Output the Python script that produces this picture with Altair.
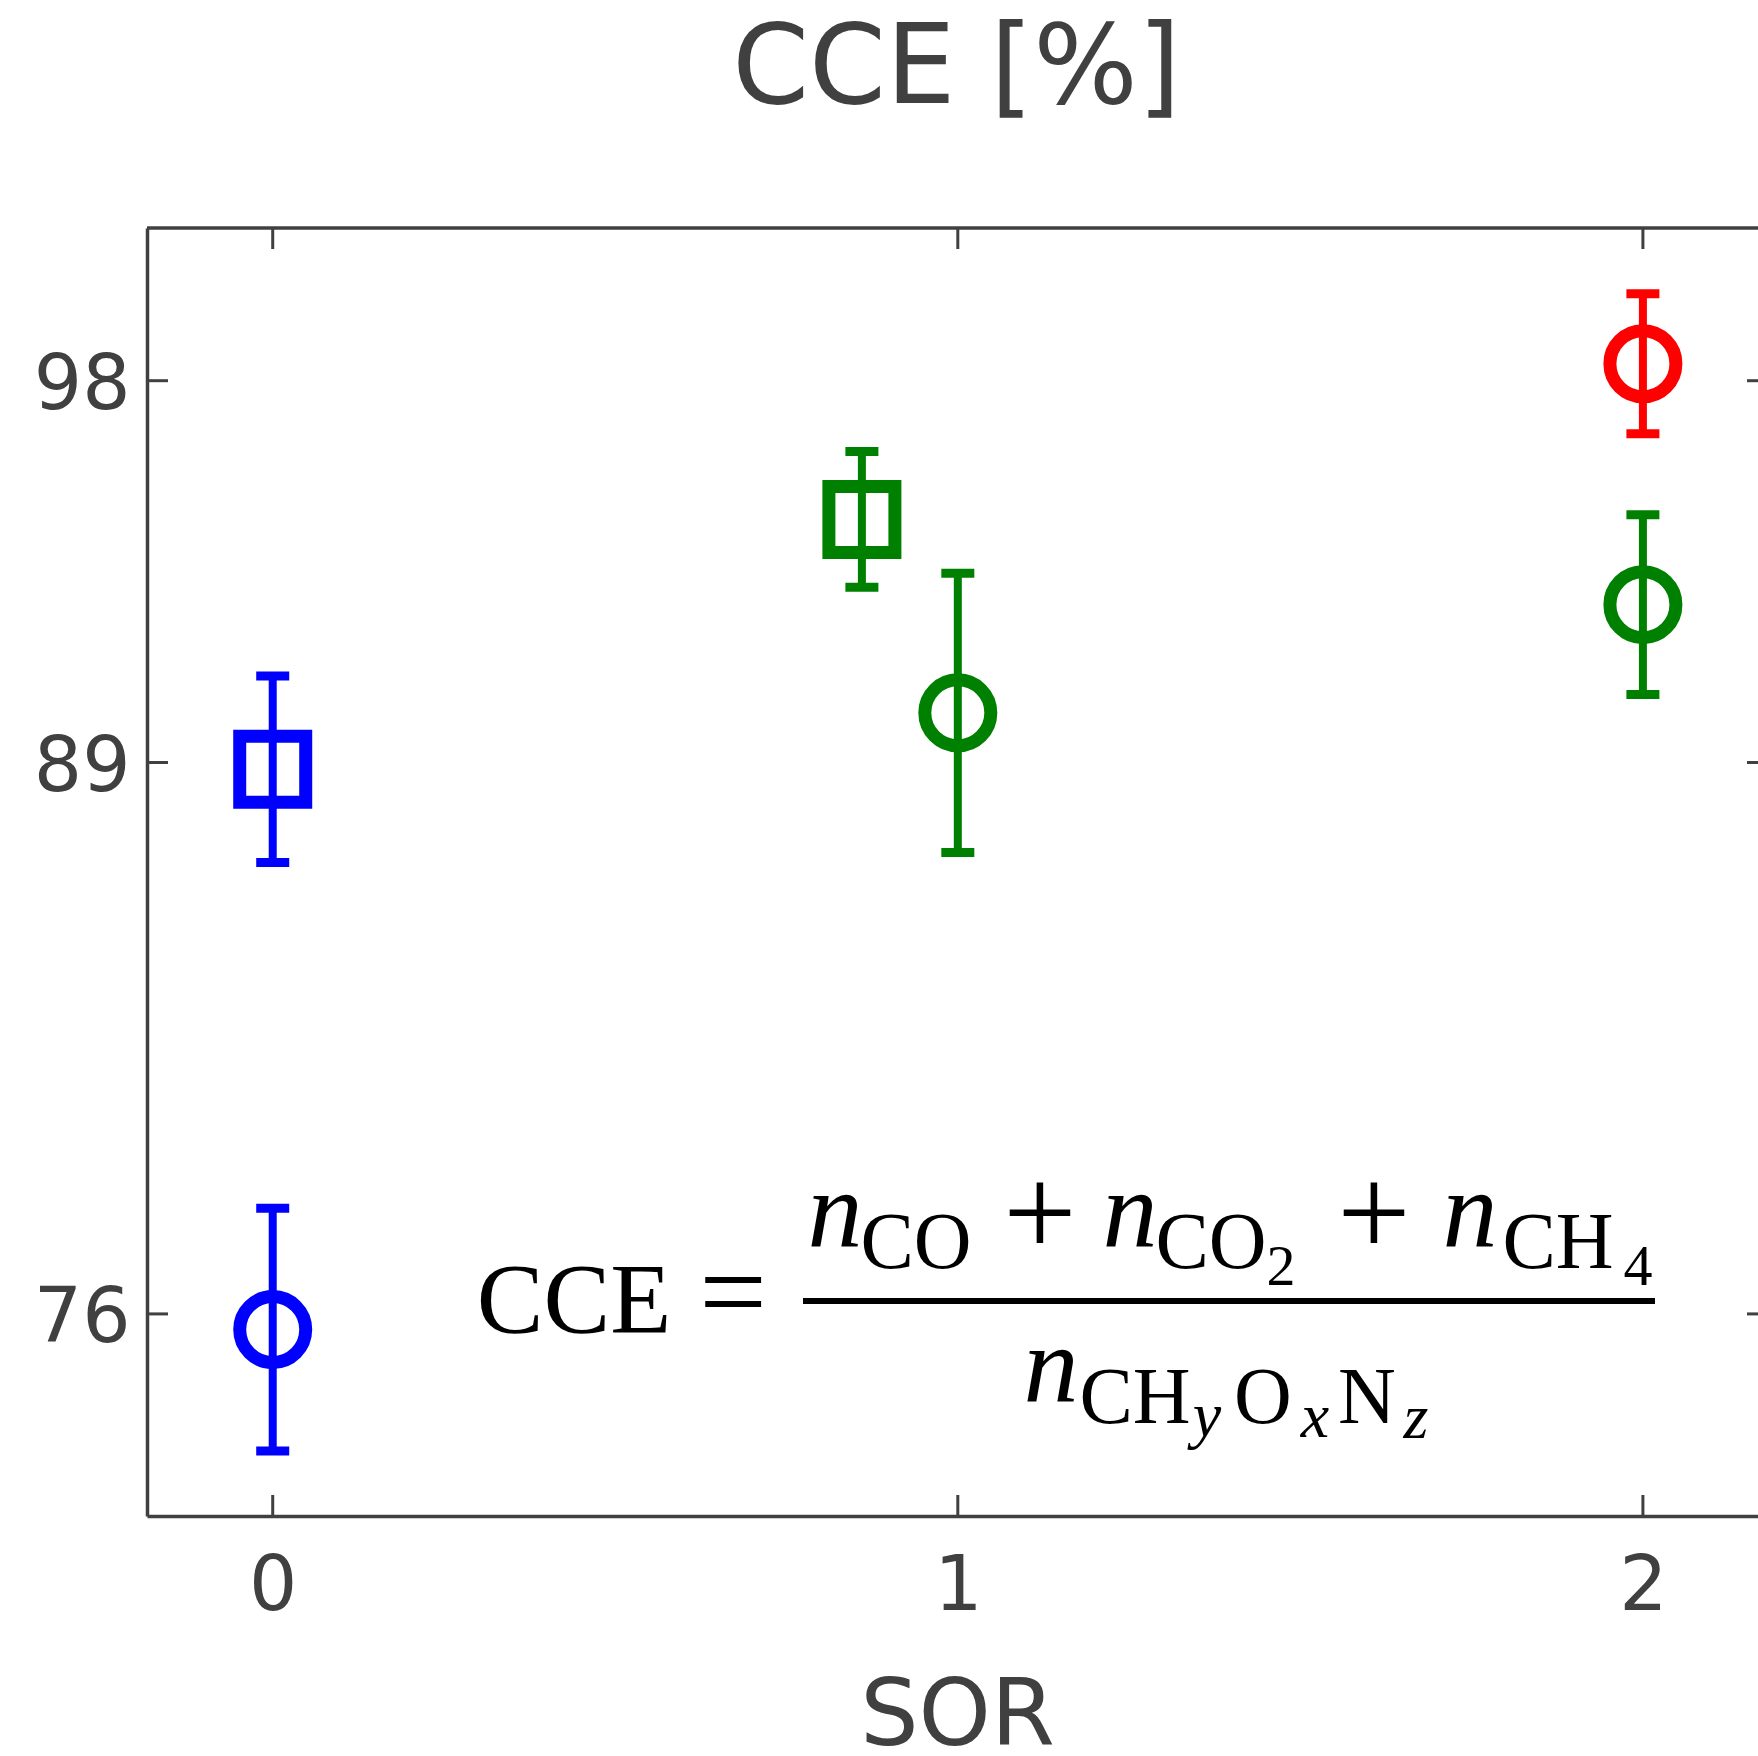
import altair as alt
import pandas as pd

# SOR, mean CCE [%] and error-bar half width for each run
sor = [0, 0, 0.86, 1, 2, 2]
cce = [88.84, 75.63, 94.73, 90.17, 98.4, 92.72]
cce_err = [2.2, 2.86, 1.6, 3.29, 1.65, 2.12]
run_set = ["set 1", "set 1", "set 2", "set 2", "set 3", "set 2"]
run_type = ["type 1", "type 2", "type 1", "type 2", "type 2", "type 2"]

x_ticks = [0, 1, 2]
y_ticks = [76, 89, 98]

df = pd.DataFrame({"sor": sor, "cce": cce, "err": cce_err,
                   "set": run_set, "type": run_type})
df["lo"] = df["cce"] - df["err"]
df["hi"] = df["cce"] + df["err"]

# plot area geometry
W, H = 1611, 1288
PAD_L, PAD_T = 147, 228
INK = "#404040"
SANS = "DejaVu Sans"
SERIF = "Liberation Serif"
LINE_W = 3.5

xs = alt.Scale(domain=[-0.1835, 2.168], nice=False, zero=False)
ys = alt.Scale(domain=[71.236, 101.6], nice=False, zero=False)

colour = alt.Color("set:N",
                   scale=alt.Scale(domain=["set 1", "set 2", "set 3"],
                                   range=["#0000ff", "#008000", "#ff0000"]),
                   legend=None)

x_axis = alt.Axis(values=x_ticks, format="d", ticks=False, tickSize=0,
                  grid=False, labelPadding=33, domainColor=INK, domainWidth=LINE_W,
                  title="SOR", titleX=810, titleY=228, titleAlign="center",
                  titleBaseline="alphabetic")
y_axis = alt.Axis(values=y_ticks, format="d", ticks=False, tickSize=0,
                  grid=False, labelPadding=17, labelOffset=5,
                  domainColor=INK, domainWidth=LINE_W, title=None)


def X(field):
    return alt.X(field, type="quantitative", scale=xs, axis=x_axis)


def Y(field):
    return alt.Y(field, type="quantitative", scale=ys, axis=y_axis)


base = alt.Chart(df)

err_bars = base.mark_rule(strokeWidth=8).encode(
    x=X("sor"), y=Y("lo"), y2="hi:Q", color=colour)
cap_lo = base.mark_tick(orient="horizontal", size=33, thickness=9, opacity=1).encode(
    x=X("sor"), y=Y("lo"), color=colour)
cap_hi = base.mark_tick(orient="horizontal", size=33, thickness=9, opacity=1).encode(
    x=X("sor"), y=Y("hi"), color=colour)
markers = base.mark_point(filled=False, strokeWidth=13, opacity=1).encode(
    x=X("sor"),
    y=Y("cce"),
    color=colour,
    shape=alt.Shape("type:N",
                    scale=alt.Scale(domain=["type 1", "type 2"],
                                    range=["square", "circle"]),
                    legend=None),
    size=alt.Size("type:N",
                  scale=alt.Scale(domain=["type 1", "type 2"],
                                  range=[4356, 4356]),
                  legend=None),
)

# frame: top edge and inward-pointing ticks on all four sides
frame_top = alt.Chart(pd.DataFrame({"k": [0]})).mark_rule(
    color=INK, strokeWidth=LINE_W).encode(
    x=alt.value(0), x2=alt.value(W), y=alt.value(0))

xt = alt.Chart(pd.DataFrame({"v": x_ticks}))
yt = alt.Chart(pd.DataFrame({"v": y_ticks}))
tick_style = dict(color=INK, strokeWidth=3)
ticks_bottom = xt.mark_rule(**tick_style).encode(
    x=X("v"), y=alt.value(H), y2=alt.value(H - 21))
ticks_top = xt.mark_rule(**tick_style).encode(
    x=X("v"), y=alt.value(0), y2=alt.value(21))
ticks_left = yt.mark_rule(**tick_style).encode(
    y=Y("v"), x=alt.value(0), x2=alt.value(21))
ticks_right = yt.mark_rule(**tick_style).encode(
    y=Y("v"), x=alt.value(W - 11), x2=alt.value(W))

# CCE definition, typeset piece by piece: (text, centre x, baseline y, size, italic)
formula_pieces = [
    ("CCE", 574, 1332, 100, False),
    ("=", 733, 1332, 120, False),
    ("n", 835, 1247, 110, True),
    ("CO", 916, 1268, 80, False),
    ("+", 1040, 1256, 130, False),
    ("n", 1130, 1247, 110, True),
    ("CO", 1211, 1268, 80, False),
    ("2", 1281, 1285, 58, False),
    ("+", 1374, 1256, 130, False),
    ("n", 1470, 1247, 110, True),
    ("CH", 1558, 1268, 80, False),
    ("4", 1638, 1285, 58, False),
    ("n", 1051, 1402, 110, True),
    ("CH", 1135, 1423, 80, False),
    ("y", 1207, 1436, 64, True),
    ("O", 1263, 1423, 80, False),
    ("x", 1315, 1437, 64, True),
    ("N", 1367, 1423, 80, False),
    ("z", 1416, 1438, 64, True),
]
formula_layers = []
for txt, cx, by, fs, it in formula_pieces:
    kw = dict(font=SERIF, fontSize=fs, align="center", baseline="alphabetic",
              color="black")
    if it:
        kw["fontStyle"] = "italic"
    formula_layers.append(
        alt.Chart(pd.DataFrame({"t": [txt]})).mark_text(**kw).encode(
            x=alt.value(cx - PAD_L), y=alt.value(by - PAD_T), text="t:N"))

fraction_bar = alt.Chart(pd.DataFrame({"k": [0]})).mark_rule(
    color="black", strokeWidth=6).encode(
    x=alt.value(803 - PAD_L), x2=alt.value(1655 - PAD_L), y=alt.value(1301 - PAD_T))

chart = alt.layer(
    err_bars, cap_lo, cap_hi, markers,
    frame_top, ticks_bottom, ticks_top, ticks_left, ticks_right,
    fraction_bar, *formula_layers,
).properties(
    width=W, height=H,
    autosize="none",
    padding={"left": PAD_L, "top": PAD_T, "right": 0, "bottom": 1756 - PAD_T - H},
    title=alt.TitleParams("CCE [%]", font=SANS, fontSize=110, fontWeight="normal",
                          color=INK, anchor="middle", baseline="alphabetic",
                          offset=13, dx=4),
    background="white",
).configure_view(
    stroke="transparent"
).configure_axis(
    labelFont=SANS, labelFontSize=76, labelColor=INK,
    titleFont=SANS, titleFontSize=92, titleFontWeight="normal", titleColor=INK,
)

chart.save("out.html", embed_options={"renderer": "svg", "actions": False})
